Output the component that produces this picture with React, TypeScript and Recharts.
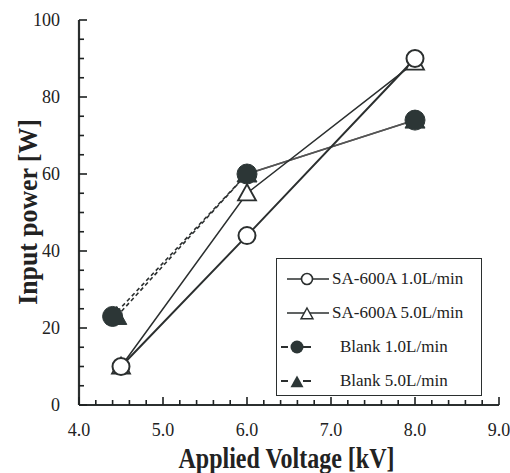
import { LineChart, Line, XAxis, YAxis } from "recharts";

// values
const saVoltage = [4.5, 6.0, 8.0];
const sa1Power = [10, 44, 90];
const sa5Power = [10, 55, 89];
const blank1Voltage = [4.4, 6.0, 8.0];
const blank1Power = [23, 60, 74];
const blank5Voltage = [4.45, 6.0, 8.0];
const blank5Power = [23, 60, 74];

const xMajorTicks = [4, 5, 6, 7, 8, 9];
const yMajorTicks = [0, 20, 40, 60, 80, 100];

const legendLabels = [
  "SA-600A 1.0L/min",
  "SA-600A 5.0L/min",
  "Blank 1.0L/min",
  "Blank 5.0L/min",
];

const INK = "#2b2f2f";
const TICK = "#1e2222";
const FILL = "#2c3636";
const FONT = "'Liberation Serif', 'Times New Roman', serif";

const toPoints = (xs: number[], ys: number[]) =>
  xs.map((v, i) => ({ v, p: ys[i] }));

const sa1 = toPoints(saVoltage, sa1Power);
const sa5 = toPoints(saVoltage, sa5Power);
const blank1 = toPoints(blank1Voltage, blank1Power);
const blank5 = toPoints(blank5Voltage, blank5Power);

// minor ticks every 0.2 kV and 5 W
const xTicks: number[] = [];
for (let i = 0; i <= 25; i++) xTicks.push(+(4 + i * 0.2).toFixed(1));
const yTicks: number[] = [];
for (let i = 0; i <= 20; i++) yTicks.push(i * 5);

const isMajor = (v: number, list: number[]) =>
  list.some((m) => Math.abs(m - v) < 1e-6);

const XTick = (props: any) => {
  const { x, y, payload } = props;
  const major = isMajor(payload.value, xMajorTicks);
  return (
    <g>
      <rect x={x - 0.8} y={y - (major ? 8 : 5)} width={1.6} height={major ? 8 : 5} fill={TICK} />
      {major && (
        <text x={x} y={y + 31} textAnchor="middle" fontFamily={FONT} fontSize={18} fill="#222">
          {payload.value.toFixed(1)}
        </text>
      )}
    </g>
  );
};

const YTick = (props: any) => {
  const { x, y, payload } = props;
  const major = isMajor(payload.value, yMajorTicks);
  return (
    <g>
      <rect x={x} y={y - 0.8} width={major ? 8 : 5} height={1.6} fill={TICK} />
      {major && (
        <text x={x - 19} y={y + 6} textAnchor="end" fontFamily={FONT} fontSize={18} fill="#222">
          {payload.value}
        </text>
      )}
    </g>
  );
};

const triangle = (cx: number, cy: number, s: number) =>
  `M${cx},${cy - s} L${cx + s},${cy + s * 0.8} L${cx - s},${cy + s * 0.8} Z`;

const openCircle = (props: any) => (
  <circle key={`oc-${props.index}`} cx={props.cx} cy={props.cy} r={8.5} fill="#fff" stroke={INK} strokeWidth={2} />
);
const openTriangle = (props: any) => (
  <path key={`ot-${props.index}`} d={triangle(props.cx, props.cy, 9)} fill="#fff" stroke={INK} strokeWidth={1.8} />
);
const filledCircle = (props: any) => (
  <circle key={`fc-${props.index}`} cx={props.cx} cy={props.cy} r={10} fill={FILL} stroke={FILL} />
);
const filledTriangle = (props: any) => (
  <path key={`ft-${props.index}`} d={triangle(props.cx, props.cy, 10)} fill={FILL} stroke={FILL} />
);

const LegendSymbol = ({ idx }: { idx: number }) => {
  if (idx < 2) {
    return (
      <svg width={44} height={16} style={{ display: "block", flexShrink: 0 }}>
        <line x1={0} x2={42} y1={8} y2={8} stroke={INK} strokeWidth={1.6} />
        {idx === 0 && <circle cx={20} cy={8} r={5.5} fill="#fff" stroke={INK} strokeWidth={1.6} />}
        {idx === 1 && <path d={triangle(20, 9, 6)} fill="#fff" stroke={INK} strokeWidth={1.4} />}
      </svg>
    );
  }
  return (
    <svg width={58} height={16} style={{ display: "block", marginLeft: -7, flexShrink: 0 }}>
      <rect x={1} y={7} width={7} height={2} fill={INK} />
      <rect x={23} y={7} width={8} height={2} fill={INK} />
      {idx === 2 && <circle cx={17} cy={8} r={6.5} fill={FILL} />}
      {idx === 3 && <path d={triangle(17, 9, 6.5)} fill={FILL} />}
    </svg>
  );
};

export default function App() {
  return (
    <div style={{ position: "absolute", left: 0, top: 0, width: 510, height: 473, background: "#fff" }}>
      <LineChart width={510} height={473} margin={{ top: 20, right: 11, bottom: 0, left: 0 }}>
        <XAxis
          dataKey="v"
          type="number"
          domain={[4, 9]}
          ticks={xTicks}
          interval={0}
          height={68}
          tickSize={0}
          tickMargin={0}
          tick={<XTick />}
          axisLine={{ stroke: INK, strokeWidth: 2.2 }}
          tickLine={false}
        />
        <XAxis xAxisId="top" orientation="top" type="number" domain={[4, 9]} height={0} tick={false} tickLine={false} axisLine={{ stroke: INK, strokeWidth: 1.4 }} />
        <YAxis
          type="number"
          domain={[0, 100]}
          ticks={yTicks}
          interval={0}
          width={79}
          tickSize={0}
          tickMargin={0}
          tick={<YTick />}
          axisLine={{ stroke: INK, strokeWidth: 2.2 }}
          tickLine={false}
        />
        <YAxis yAxisId="right" orientation="right" type="number" domain={[0, 100]} width={0} tick={false} tickLine={false} axisLine={{ stroke: INK, strokeWidth: 1.6 }} />

        {/* Blank series: dashed up to 6 kV, solid afterwards */}
        <Line data={blank5.slice(0, 2)} dataKey="p" stroke={INK} strokeWidth={1.6} strokeDasharray="4 3" dot={false} isAnimationActive={false} />
        <Line data={blank1.slice(0, 2)} dataKey="p" stroke={INK} strokeWidth={1.6} strokeDasharray="4 3" dot={false} isAnimationActive={false} />
        <Line data={blank5.slice(1)} dataKey="p" stroke="#555" strokeWidth={1.6} dot={false} isAnimationActive={false} />
        <Line data={blank1.slice(1)} dataKey="p" stroke="#555" strokeWidth={1.6} dot={false} isAnimationActive={false} />
        <Line data={blank5} dataKey="p" stroke="none" dot={filledTriangle} isAnimationActive={false} />
        <Line data={blank1} dataKey="p" stroke="none" dot={filledCircle} isAnimationActive={false} />

        <Line data={sa5} dataKey="p" stroke={INK} strokeWidth={1.5} dot={openTriangle} isAnimationActive={false} />
        <Line data={sa1} dataKey="p" stroke={INK} strokeWidth={2} dot={openCircle} isAnimationActive={false} />
      </LineChart>

      <div
        style={{
          position: "absolute",
          left: 287,
          top: 443,
          width: 0,
          display: "flex",
          justifyContent: "center",
        }}
      >
        <div style={{ fontFamily: FONT, fontWeight: "bold", fontSize: 25, color: "#222", whiteSpace: "nowrap", lineHeight: "30px", transform: "scale(0.96, 1.2)" }}>
          Applied Voltage [kV]
        </div>
      </div>

      <div
        style={{
          position: "absolute",
          left: 28,
          top: 212,
          transform: "translate(-50%, -50%) rotate(-90deg) scale(1.03, 1.1)",
          fontFamily: FONT,
          fontWeight: "bold",
          fontSize: 25,
          color: "#222",
          whiteSpace: "nowrap",
          lineHeight: "26px",
        }}
      >
        Input power [W]
      </div>

      <div
        style={{
          position: "absolute",
          left: 276,
          top: 258,
          width: 206,
          height: 138,
          boxSizing: "border-box",
          border: `1.5px solid ${INK}`,
          background: "#fff",
          paddingLeft: 10,
          paddingTop: 3,
        }}
      >
        {legendLabels.map((label, i) => (
          <div key={label} style={{ display: "flex", alignItems: "center", height: 34 }}>
            <LegendSymbol idx={i} />
            <span style={{ fontFamily: FONT, fontSize: 17, color: "#222", marginLeft: i < 2 ? 1 : 2, whiteSpace: "nowrap" }}>
              {label}
            </span>
          </div>
        ))}
      </div>
    </div>
  );
}
